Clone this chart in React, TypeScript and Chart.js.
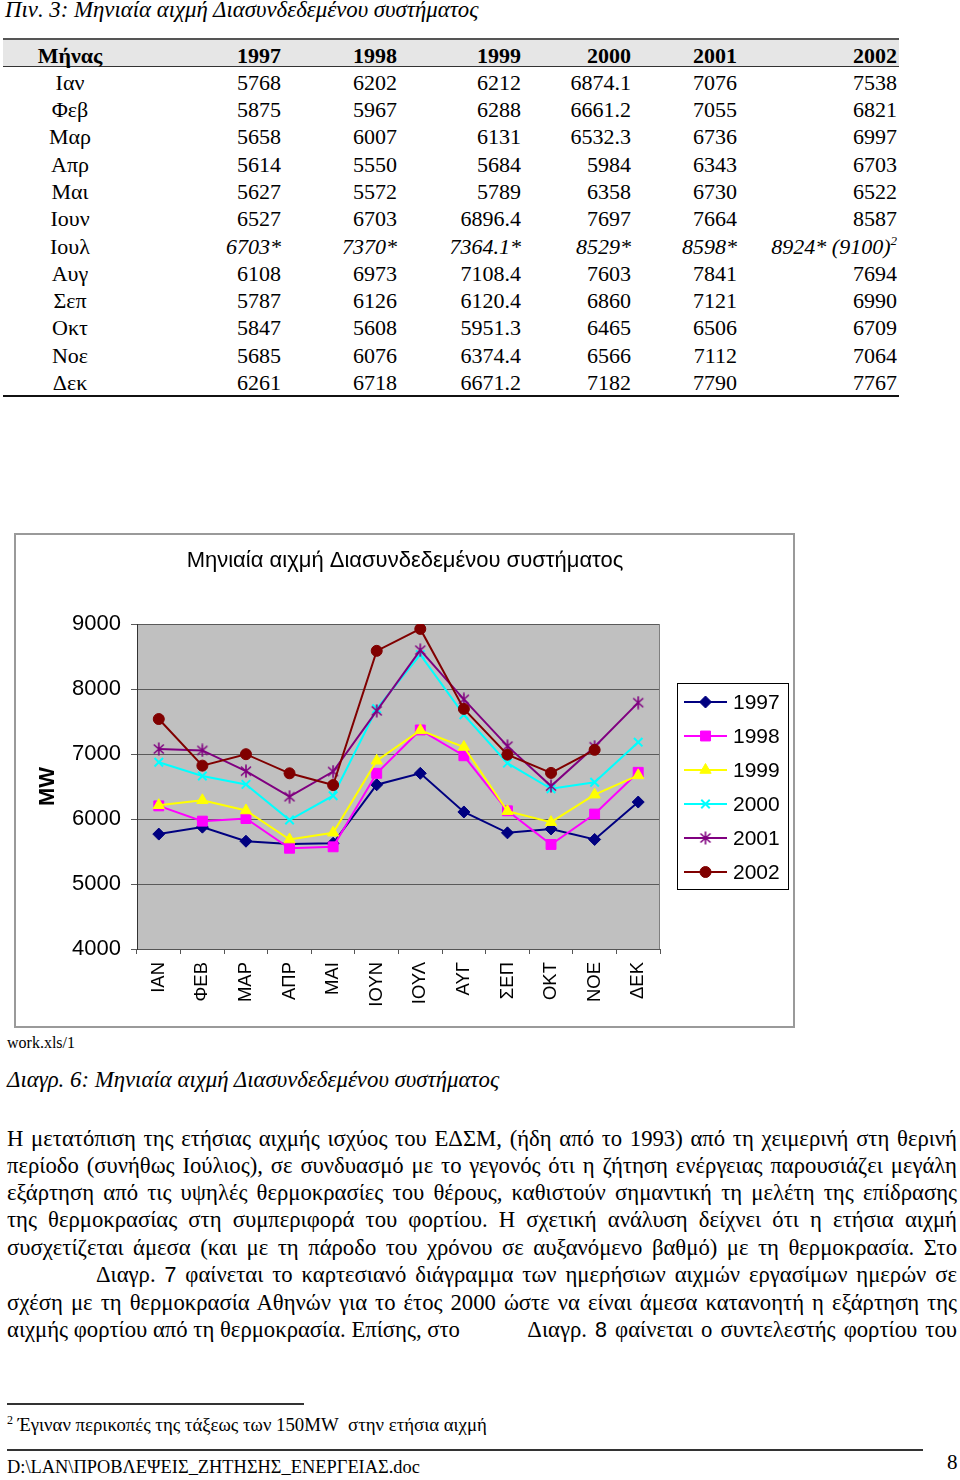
import React, { useEffect, useRef } from "react";
import { Chart, registerables } from "chart.js";
import { drawPoint } from "chart.js/helpers";

Chart.register(...registerables);

// ---------- data ----------
const chartTitle = "Μηνιαία αιχμή Διασυνδεδεμένου συστήματος";
const axisMonths = ["ΙΑΝ", "ΦΕΒ", "ΜΑΡ", "ΑΠΡ", "ΜΑΙ", "ΙΟΥΝ", "ΙΟΥΛ", "ΑΥΓ", "ΣΕΠ", "ΟΚΤ", "ΝΟΕ", "ΔΕΚ"];
const tableMonths = ["Ιαν", "Φεβ", "Μαρ", "Απρ", "Μαι", "Ιουν", "Ιουλ", "Αυγ", "Σεπ", "Οκτ", "Νοε", "Δεκ"];
const years = ["1997", "1998", "1999", "2000", "2001", "2002"];

const peak1997 = [5768, 5875, 5658, 5614, 5627, 6527, 6703, 6108, 5787, 5847, 5685, 6261];
const peak1998 = [6202, 5967, 6007, 5550, 5572, 6703, 7370, 6973, 6126, 5608, 6076, 6718];
const peak1999 = [6212, 6288, 6131, 5684, 5789, 6896.4, 7364.1, 7108.4, 6120.4, 5951.3, 6374.4, 6671.2];
const peak2000 = [6874.1, 6661.2, 6532.3, 5984, 6358, 7697, 8529, 7603, 6860, 6465, 6566, 7182];
const peak2001 = [7076, 7055, 6736, 6343, 6730, 7664, 8598, 7841, 7121, 6506, 7112, 7790];
const peak2002 = [7538, 6821, 6997, 6703, 6522, 8587, 8924, 7694, 6990, 6709, 7064, 7767];
const plottedMonths2002 = 11; // the chart shows 2002 only up to November
const julyIndex = 6; // July values are starred in the table
const july2002Note = "(9100)";
const yMin = 4000;
const yMax = 9000;
const yStep = 1000;
const yAxisTitle = "MW";

const tableSeries = [peak1997, peak1998, peak1999, peak2000, peak2001, peak2002];

// ---------- styles ----------
const serif = "'Liberation Serif', 'Times New Roman', serif";
const sans = "Arial, 'Liberation Sans', sans-serif";
const seriesStyles = [
  { color: "#000080", point: "rectRot", radius: 6, bw: 1 },
  { color: "#ff00ff", point: "rect", radius: 7, bw: 1 },
  { color: "#ffff00", point: "triangle", radius: 6.5, bw: 1 },
  { color: "#00ffff", point: "crossRot", radius: 6, bw: 2 },
  { color: "#800080", point: "star", radius: 6, bw: 1.5 },
  { color: "#800000", point: "circle", radius: 5.5, bw: 1 },
];

function makeStar(color: string) {
  const c = document.createElement("canvas");
  c.width = 14;
  c.height = 14;
  const g = c.getContext("2d")!;
  g.strokeStyle = color;
  g.lineWidth = 1.6;
  g.beginPath();
  g.moveTo(2, 2.5); g.lineTo(12, 11.5);
  g.moveTo(12, 2.5); g.lineTo(2, 11.5);
  g.moveTo(7, 0.5); g.lineTo(7, 13.5);
  g.stroke();
  return c;
}

function PeakChart() {
  const ref = useRef<HTMLCanvasElement>(null);
  useEffect(() => {
    const canvas = ref.current!;
    const star = makeStar("#800080");
    const chartSeries = [
      peak1997,
      peak1998,
      peak1999,
      peak2000,
      peak2001,
      peak2002.map((v, i) => (i < plottedMonths2002 ? v : null)),
    ];
    const pointStyles = seriesStyles.map((s) => (s.point === "star" ? star : s.point));

    const bgPlugin = {
      id: "plotBg",
      beforeDraw(chart: any) {
        const { ctx, chartArea } = chart;
        ctx.save();
        ctx.fillStyle = "#c0c0c0";
        ctx.fillRect(chartArea.left, chartArea.top, chartArea.right - chartArea.left, chartArea.bottom - chartArea.top);
        ctx.restore();
      },
      beforeDatasetsDraw(chart: any) {
        const { ctx, chartArea } = chart;
        ctx.save();
        ctx.strokeStyle = "#808080";
        ctx.lineWidth = 1;
        ctx.beginPath();
        ctx.moveTo(Math.round(chartArea.right) - 0.5, chartArea.top);
        ctx.lineTo(Math.round(chartArea.right) - 0.5, chartArea.bottom);
        ctx.stroke();
        ctx.restore();
      },
    };

    const titlePlugin = {
      id: "topTitle",
      afterDraw(chart: any) {
        const { ctx } = chart;
        ctx.save();
        ctx.font = `22px ${sans}`;
        ctx.fillStyle = "#000";
        ctx.textAlign = "center";
        ctx.textBaseline = "middle";
        ctx.fillText(chartTitle, 389, 26);
        ctx.restore();
      },
    };

    const legendPlugin = {
      id: "boxLegend",
      afterDraw(chart: any) {
        const { ctx } = chart;
        ctx.save();
        ctx.fillStyle = "#fff";
        ctx.fillRect(661, 148, 111, 206);
        ctx.strokeStyle = "#000";
        ctx.lineWidth = 1;
        ctx.strokeRect(661.5, 148.5, 111, 206);
        chart.data.datasets.forEach((ds: any, i: number) => {
          const y = 167 + 34 * i;
          const st = seriesStyles[i];
          ctx.strokeStyle = st.color;
          ctx.lineWidth = 2;
          ctx.beginPath();
          ctx.moveTo(668, y);
          ctx.lineTo(711, y);
          ctx.stroke();
          ctx.fillStyle = st.color;
          ctx.lineWidth = st.bw;
          drawPoint(ctx, { pointStyle: pointStyles[i], rotation: 0, radius: st.radius, borderWidth: st.bw } as any, 689.5, y);
          ctx.fillStyle = "#000";
          ctx.font = `21px ${sans}`;
          ctx.textAlign = "left";
          ctx.textBaseline = "middle";
          ctx.fillText(ds.label, 717, y + 1);
        });
        ctx.restore();
      },
    };

    const chart = new Chart(canvas, {
      type: "line",
      data: {
        labels: axisMonths,
        datasets: chartSeries.map((d, i) => ({
          label: years[i],
          data: d,
          borderColor: seriesStyles[i].color,
          backgroundColor: seriesStyles[i].color,
          borderWidth: 2,
          pointStyle: pointStyles[i] as any,
          pointRadius: seriesStyles[i].radius,
          pointBorderWidth: seriesStyles[i].bw,
          pointBackgroundColor: seriesStyles[i].color,
          pointBorderColor: seriesStyles[i].color,
          tension: 0,
          spanGaps: false,
          order: chartSeries.length - i,
        })),
      },
      options: {
        responsive: false,
        animation: false,
        events: [],
        layout: { padding: { top: 89, left: 18, right: 133, bottom: 0 } },
        plugins: {
          legend: { display: false },
          tooltip: { enabled: false },
          title: { display: false },
        },
        scales: {
          x: {
            offset: true,
            grid: { offset: true, drawOnChartArea: false, drawTicks: true, tickLength: 5, color: "#555" },
            border: { color: "#555", width: 1 },
            ticks: {
              font: { family: sans, size: 18.5 },
              color: "#000",
              minRotation: 90,
              maxRotation: 90,
              autoSkip: false,
              padding: 8,
            },
            afterFit: (s: any) => {
              s.height = 77;
            },
          },
          y: {
            min: yMin,
            max: yMax,
            ticks: {
              stepSize: yStep,
              font: { family: sans, size: 22 },
              color: "#000",
              padding: 10,
              callback: (v: any) => String(v),
            },
            grid: { color: "#5a5a5a", tickLength: 6 },
            border: { color: "#333", width: 1 },
            title: {
              display: true,
              text: yAxisTitle,
              font: { family: sans, size: 22, weight: "bold" },
              color: "#000",
              padding: { top: 1, bottom: 0 },
            },
            afterFit: (s: any) => {
              s.width = 103;
            },
          },
        },
      } as any,
      plugins: [bgPlugin, titlePlugin, legendPlugin],
    });
    return () => chart.destroy();
  }, []);

  return (
    <canvas
      ref={ref}
      width={777}
      height={491}
      style={{ position: "absolute", left: 16, top: 535, width: 777, height: 491 }}
    />
  );
}

// ---------- table ----------
const colWidths = [134, 146, 116, 124, 110, 106, 160];
const rowH = 27.27;
const firstBaseline = 90;
const fontPx = 22;

function cellText(v: number, col: number, row: number) {
  const s = String(v);
  if (row !== julyIndex) return s;
  if (col === tableSeries.length - 1)
    return (
      <span>
        {s}* {july2002Note}
        <span style={{ fontSize: 13, position: "relative", top: -9 }}>2</span>
      </span>
    );
  return s + "*";
}

function Row({ top, cells, bold, italic }: any) {
  return (
    <div
      style={{
        position: "absolute",
        left: 3,
        top,
        height: rowH,
        display: "flex",
        lineHeight: `${rowH}px`,
        fontSize: fontPx,
        fontWeight: bold ? "bold" : "normal",
        whiteSpace: "nowrap",
      }}
    >
      {cells.map((c: any, i: number) => (
        <div
          key={i}
          style={{
            width: colWidths[i],
            textAlign: i === 0 ? "center" : "right",
            paddingRight: i === 0 ? 0 : 2,
            boxSizing: "border-box",
            fontStyle: italic && i > 0 ? "italic" : "normal",
          }}
        >
          {c}
        </div>
      ))}
    </div>
  );
}

function DataTable() {
  const off = 21.06;
  return (
    <>
      <div style={{ position: "absolute", left: 3, top: 38, width: 896, height: 2, background: "#555" }} />
      <div style={{ position: "absolute", left: 3, top: 40, width: 896, height: 26, background: "#e6e6e6" }} />
      <div style={{ position: "absolute", left: 3, top: 66, width: 896, height: 1, background: "#333" }} />
      <Row top={firstBaseline - rowH - off} cells={["Μήνας", ...years]} bold />
      {tableMonths.map((m, r) => (
        <Row
          key={m}
          top={firstBaseline + r * rowH - off}
          cells={[m, ...tableSeries.map((s, c) => cellText(s[r], c, r))]}
          italic={r === julyIndex}
        />
      ))}
      <div style={{ position: "absolute", left: 3, top: 395, width: 896, height: 1.5, background: "#111" }} />
    </>
  );
}

// ---------- text ----------
const paraLines = [
  "Η μετατόπιση της ετήσιας αιχμής ισχύος του ΕΔΣΜ, (ήδη από το 1993) από τη χειμερινή στη θερινή",
  "περίοδο (συνήθως Ιούλιος), σε συνδυασμό με το γεγονός ότι η ζήτηση ενέργειας παρουσιάζει μεγάλη",
  "εξάρτηση από τις υψηλές θερμοκρασίες του θέρους, καθιστούν σημαντική τη μελέτη της επίδρασης",
  "της θερμοκρασίας στη συμπεριφορά του φορτίου. Η σχετική ανάλυση δείχνει ότι η ετήσια αιχμή",
  "συσχετίζεται άμεσα (και με τη πάροδο του χρόνου σε αυξανόμενο βαθμό) με τη θερμοκρασία. Στο",
];

export default function App() {
  const lineOff = 21.5;
  const pBase = 1146;
  const justify: any = { textAlign: "justify", textAlignLast: "justify" };
  return (
    <div
      style={{
        position: "absolute",
        left: 0,
        top: 0,
        width: 960,
        height: 1480,
        background: "#fff",
        fontFamily: serif,
        color: "#000",
        overflow: "hidden",
      }}
    >
      <div style={{ position: "absolute", left: 5, top: 17.5 - lineOff, fontSize: 22.8, lineHeight: `${rowH}px`, fontStyle: "italic", whiteSpace: "nowrap" }}>
        Πιν. 3: Μηνιαία αιχμή Διασυνδεδεμένου συστήματος
      </div>

      <DataTable />

      <div
        style={{
          position: "absolute",
          left: 14,
          top: 533,
          width: 781,
          height: 495,
          border: "2px solid #9a9a9a",
          boxSizing: "border-box",
        }}
      />
      <PeakChart />

      <div style={{ position: "absolute", left: 7, top: 1033, fontSize: 16, lineHeight: "20px", whiteSpace: "nowrap" }}>work.xls/1</div>
      <div style={{ position: "absolute", left: 7, top: 1087 - lineOff, fontSize: 22.8, lineHeight: `${rowH}px`, fontStyle: "italic", whiteSpace: "nowrap" }}>
        Διαγρ. 6: Μηνιαία αιχμή Διασυνδεδεμένου συστήματος
      </div>

      <div style={{ position: "absolute", left: 7, top: pBase - lineOff, width: 950, fontSize: 22.7, lineHeight: `${rowH}px` }}>
        {paraLines.map((l, i) => (
          <div key={i} style={justify}>
            {l}
          </div>
        ))}
        <div style={{ ...justify, marginLeft: 89 }}>
          Διαγρ. <span style={{ fontFamily: sans, fontSize: 21.5 }}>7</span> φαίνεται το καρτεσιανό διάγραμμα των ημερήσιων αιχμών εργασίμων ημερών σε
        </div>
        <div style={justify}>
          σχέση με τη θερμοκρασία Αθηνών για το έτος 2000 ώστε να είναι άμεσα κατανοητή η εξάρτηση της
        </div>
        <div style={{ display: "flex", justifyContent: "space-between", whiteSpace: "nowrap" }}>
          <span>αιχμής φορτίου από τη θερμοκρασία. Επίσης, στο</span>
          <span style={{ wordSpacing: "2.4px" }}>
            Διαγρ. <span style={{ fontFamily: sans, fontSize: 21.5 }}>8</span> φαίνεται ο συντελεστής φορτίου του
          </span>
        </div>
      </div>

      <div style={{ position: "absolute", left: 7, top: 1403, width: 297, height: 1.5, background: "#333" }} />
      <div style={{ position: "absolute", left: 7, top: 1413, fontSize: 18.8, lineHeight: "24px", whiteSpace: "nowrap" }}>
        <span style={{ fontSize: 12, position: "relative", top: -7 }}>2</span>
        {" "}Έγιναν περικοπές της τάξεως των 150MW&nbsp; στην ετήσια αιχμή
      </div>
      <div style={{ position: "absolute", left: 7, top: 1449, width: 916, height: 1.5, background: "#333" }} />
      <div style={{ position: "absolute", left: 7, top: 1455, fontSize: 18.4, lineHeight: "24px", whiteSpace: "nowrap" }}>
        D:\LAN\ΠΡΟΒΛΕΨΕΙΣ_ΖΗΤΗΣΗΣ_ΕΝΕΡΓΕΙΑΣ.doc
      </div>
      <div style={{ position: "absolute", left: 947, top: 1450, fontSize: 21, lineHeight: "24px" }}>8</div>
    </div>
  );
}
